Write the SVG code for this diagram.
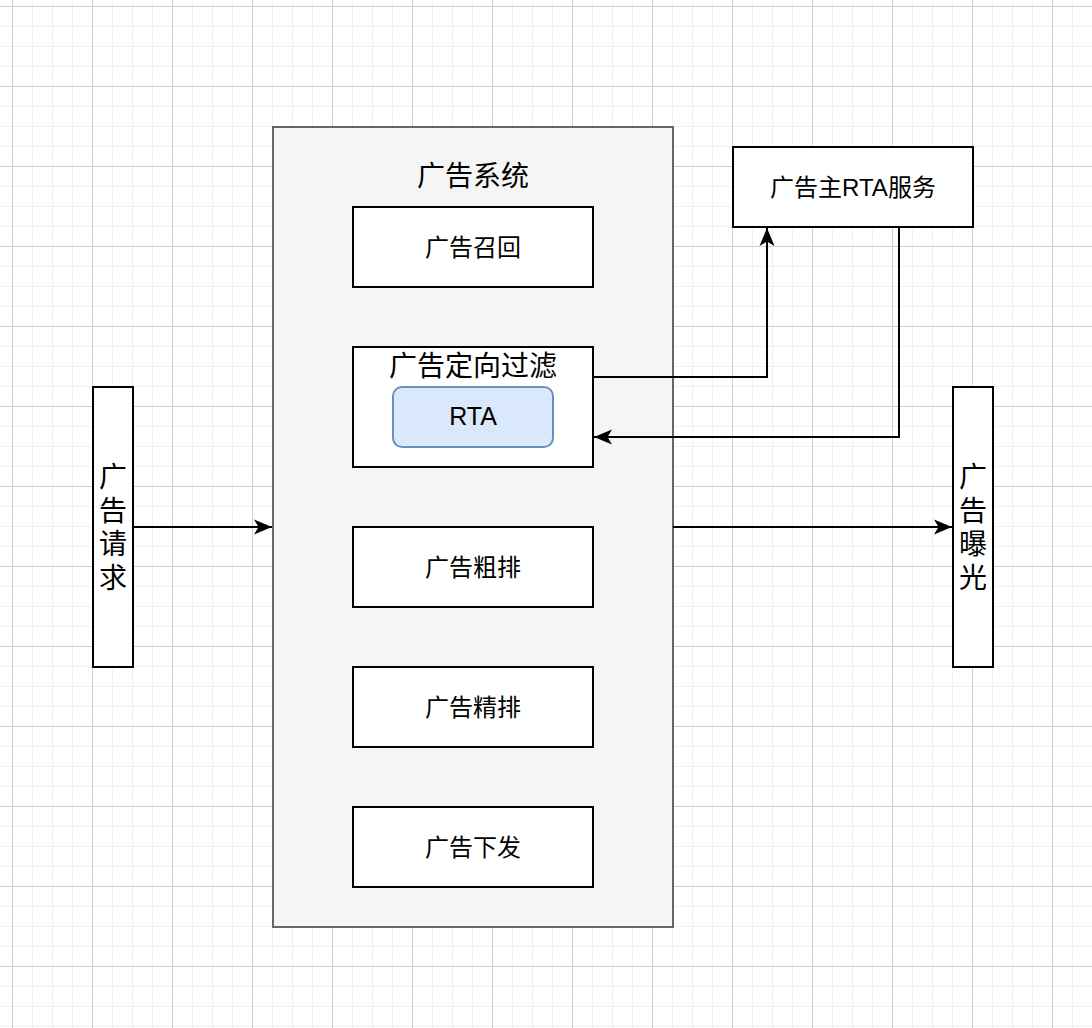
<svg xmlns="http://www.w3.org/2000/svg" width="1092" height="1028" viewBox="0 0 1092 1028">
  <defs>
    <pattern id="minor" x="12" y="6" width="20" height="20" patternUnits="userSpaceOnUse">
      <path d="M0.5,0 V20 M0,0.5 H20" fill="none" stroke="#f0f0f0" stroke-width="1"/>
    </pattern>
    <pattern id="major" x="12" y="6" width="80" height="80" patternUnits="userSpaceOnUse">
      <path d="M0.5,0 V80 M0,0.5 H80" fill="none" stroke="#d0d0d0" stroke-width="1"/>
    </pattern>
    <marker id="arrow" markerUnits="userSpaceOnUse" markerWidth="20" markerHeight="18" refX="18" refY="8" orient="auto" overflow="visible">
      <path d="M0,0.5 L18,8 L0,15.5 L4.5,8 Z" fill="#000" stroke="none"/>
    </marker>
    <style>
      .box { fill: #ffffff; stroke: #000000; stroke-width: 2; }
      .container { fill: #f5f5f5; stroke: #666666; stroke-width: 2; }
      .rta { fill: #dae8fc; stroke: #6c8ebf; stroke-width: 2; }
      .t { font-family: "Liberation Sans", "Noto Sans CJK SC", sans-serif; fill: #000; text-anchor: middle; }
      .s24 { font-size: 24px; }
      .s28 { font-size: 28px; }
      .edge { fill: none; stroke: #000; stroke-width: 2; marker-end: url(#arrow); }
    </style>
  </defs>
  <rect x="0" y="0" width="1092" height="1028" fill="#ffffff"/>
  <rect x="0" y="0" width="1092" height="1028" fill="url(#minor)"/>
  <rect x="0" y="0" width="1092" height="1028" fill="url(#major)"/>

  <g id="ad-system">
    <rect class="container" x="273" y="127" width="400" height="800"/>
    <text class="t s28" x="473" y="186">广告系统</text>
  </g>
  <g id="recall">
    <rect class="box" x="353" y="207" width="240" height="80"/>
    <text class="t s24" x="473" y="256">广告召回</text>
  </g>
  <g id="filter">
    <rect class="box" x="353" y="347" width="240" height="120"/>
    <text class="t s28" x="473" y="376">广告定向过滤</text>
  </g>
  <g id="rta">
    <rect class="rta" x="393" y="387" width="160" height="60" rx="9" ry="9"/>
    <text class="t" x="473" y="425" font-size="25">RTA</text>
  </g>
  <g id="coarse-rank">
    <rect class="box" x="353" y="527" width="240" height="80"/>
    <text class="t s24" x="473" y="576">广告粗排</text>
  </g>
  <g id="fine-rank">
    <rect class="box" x="353" y="667" width="240" height="80"/>
    <text class="t s24" x="473" y="716">广告精排</text>
  </g>
  <g id="deliver">
    <rect class="box" x="353" y="807" width="240" height="80"/>
    <text class="t s24" x="473" y="856">广告下发</text>
  </g>
  <g id="rta-service">
    <rect class="box" x="733" y="147" width="240" height="80"/>
    <text class="t s24" x="853" y="196">广告主RTA服务</text>
  </g>
  <g id="ad-request">
    <rect class="box" x="93" y="387" width="40" height="280"/>
    <text class="t s28"><tspan x="113" y="487">广</tspan><tspan x="113" y="521">告</tspan><tspan x="113" y="554">请</tspan><tspan x="113" y="588">求</tspan></text>
  </g>
  <g id="ad-exposure">
    <rect class="box" x="953" y="387" width="40" height="280"/>
    <text class="t s28"><tspan x="973" y="487">广</tspan><tspan x="973" y="521">告</tspan><tspan x="973" y="554">曝</tspan><tspan x="973" y="588">光</tspan></text>
  </g>

  <g id="connectors">
    <path class="edge" d="M133,527 H272"/>
    <path class="edge" d="M673,527 H952"/>
    <path class="edge" d="M593,377 H767 V228"/>
    <path class="edge" d="M899,227 V437 H594"/>
  </g>
</svg>
